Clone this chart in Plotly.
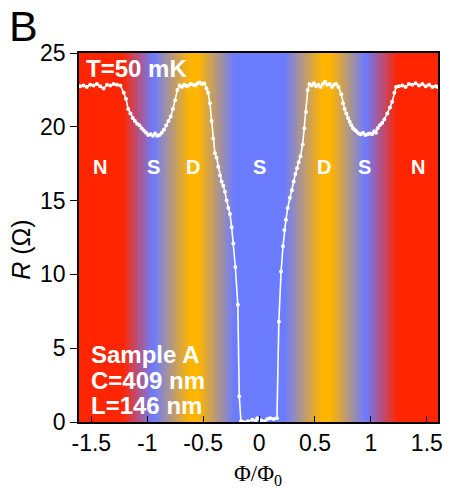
import plotly.graph_objects as go

# Measured R(Phi) curve
phi = [-1.60, -1.57, -1.54, -1.51, -1.48, -1.45, -1.42, -1.39, -1.36, -1.33, -1.30, -1.27, -1.24,
       -1.21, -1.19, -1.17, -1.15, -1.13, -1.11, -1.09, -1.07, -1.05, -1.03, -1.01, -0.99, -0.97,
       -0.95, -0.93, -0.91, -0.89, -0.87, -0.85, -0.83, -0.81, -0.79, -0.77, -0.75, -0.73, -0.71,
       -0.69, -0.67, -0.65, -0.63, -0.61, -0.59, -0.57, -0.55, -0.53, -0.51, -0.49, -0.47, -0.455,
       -0.44, -0.425, -0.41, -0.395, -0.38, -0.365, -0.35, -0.335, -0.32, -0.305, -0.29, -0.275,
       -0.26, -0.245, -0.23, -0.212, -0.19, -0.177, -0.162, -0.14, -0.10, -0.06, -0.03, -0.015,
       0.02, 0.05, 0.075, 0.10, 0.13, 0.16, 0.177, 0.197, 0.214, 0.226, 0.24, 0.256, 0.275, 0.294,
       0.31, 0.325, 0.34, 0.355, 0.37, 0.39, 0.405, 0.42, 0.435, 0.45, 0.47, 0.49, 0.51, 0.53,
       0.55, 0.57, 0.59, 0.61, 0.63, 0.65, 0.67, 0.69, 0.71, 0.735, 0.75, 0.765, 0.78, 0.795,
       0.81, 0.825, 0.84, 0.855, 0.87, 0.89, 0.91, 0.93, 0.95, 0.97, 0.99, 1.01, 1.03, 1.045,
       1.06, 1.08, 1.10, 1.12, 1.147, 1.17, 1.19, 1.21, 1.225, 1.25, 1.28, 1.31, 1.34, 1.37,
       1.40, 1.43, 1.46, 1.49, 1.52, 1.55, 1.58, 1.60]
resistance = [22.75, 22.8, 22.7, 22.85, 22.8, 22.9, 22.75, 22.6, 22.85, 22.8, 22.9, 22.85, 22.8,
              22.3, 21.9, 21.2, 20.9, 20.6, 20.4, 20.2, 20.1, 19.9, 19.75, 19.6, 19.45, 19.5,
              19.4, 19.55, 19.4, 19.45, 19.6, 19.8, 20.1, 20.4, 20.7, 21.2, 21.8, 22.5, 22.8,
              22.7, 22.85, 22.75, 22.8, 22.9, 22.85, 22.8, 22.95, 23.0, 22.9, 22.95, 22.6, 22.3,
              21.6, 20.4, 19.2, 18.2, 17.9, 17.3, 16.7, 16.3, 16.0, 15.6, 15.0, 14.5,
              14.1, 13.2, 12.1, 10.5, 7.95, 1.75, 0.05, 0.0, 0.05, 0.15, 0.1, 0.25,
              0.1, 0.05, 0.2, 0.25, 0.2, 0.25, 6.8, 10.2, 11.9, 13.0, 13.7, 14.5, 15.2, 15.7,
              16.3, 16.8, 17.2, 17.6, 18.0, 18.8, 19.9, 21.0, 22.5, 22.9, 22.8, 22.95, 22.75, 22.85,
              22.7, 22.9, 23.05, 22.85, 22.9, 22.7, 22.85, 22.9, 22.7, 22.2, 21.6, 21.2, 20.9, 20.6,
              20.35, 20.1, 19.9, 19.8, 19.7, 19.55, 19.5, 19.6, 19.45, 19.5, 19.55, 19.5, 19.7, 19.6,
              19.9, 20.1, 20.25, 20.5, 20.9, 21.3, 21.7, 22.3, 22.7, 22.75, 22.8, 22.7, 22.9, 22.85,
              22.95, 22.8, 22.9, 22.75, 22.85, 22.7, 22.75, 22.7]

# Background phase bands: 0 = N (red), 0.5 = S (blue), 1 = D (orange)
band_phi = [-1.75, -1.23, -0.95, -0.63, -0.55, -0.22, 0.22, 0.55, 0.63, 0.95, 1.23, 1.75]
band_level = [0.0, 0.0, 0.5, 1.0, 1.0, 0.5, 0.5, 1.0, 1.0, 0.5, 0.0, 0.0]
band_rows = [-2, 27]

region_labels = ["N", "S", "D", "S", "D", "S", "N"]
region_phi = [-1.42, -0.94, -0.59, 0.0, 0.585, 0.94, 1.42]
region_r = 17.3

x_ticks = [-1.5, -1.0, -0.5, 0.0, 0.5, 1.0, 1.5]
x_ticktext = ["-1.5", "-1", "-0.5", "0", "0.5", "1", "1.5"]
y_ticks = [0, 5, 10, 15, 20, 25]

RED = "#FF2500"
BLUE = "#6B7CFF"
ORANGE = "#FFB400"
SANS = "Liberation Sans, Arial"

fig = go.Figure()
fig.add_trace(go.Heatmap(
    x=band_phi, y=band_rows, z=[band_level, band_level],
    zmin=0, zmax=1, zsmooth="best", showscale=False, hoverinfo="skip",
    colorscale=[[0, RED], [0.5, BLUE], [1, ORANGE]],
))
fig.add_trace(go.Scatter(
    x=phi, y=resistance, mode="lines+markers",
    line=dict(color="white", width=1.6),
    marker=dict(color="white", size=4),
    showlegend=False,
))

ann = []
for lab, px in zip(region_labels, region_phi):
    ann.append(dict(x=px, y=region_r, xref="x", yref="y", text=lab, showarrow=False,
                    font=dict(family=SANS, size=20, color="white", weight="bold")))
ann.append(dict(x=-1.565, y=23.95, xref="x", yref="y", text="T=50 mK", showarrow=False,
                xanchor="left", yanchor="middle",
                font=dict(family=SANS, size=24, color="white", weight="bold")))
for txt, yy in zip(["Sample A", "C=409 nm", "L=146 nm"], [4.55, 2.8, 1.1]):
    ann.append(dict(x=-1.52, y=yy, xref="x", yref="y", text=txt, showarrow=False,
                    xanchor="left", yanchor="middle",
                    font=dict(family=SANS, size=24, color="white", weight="bold")))

# pixel-positioned annotations (converted to paper coordinates below)
pix_ann = [
    dict(x=6, y=26, text="B", xanchor="left", yanchor="middle",
         font=dict(family=SANS, size=43, color="black")),
    dict(x=260, y=459, text="Φ/Φ<sub>0</sub>", xanchor="center", yanchor="top",
         font=dict(family="Liberation Serif, Times New Roman", size=23, color="black")),
    dict(x=20, y=250, text="<i>R</i> (Ω)", textangle=-90, xanchor="center", yanchor="middle",
         font=dict(family=SANS, size=25, color="black")),
]

W, H = 451, 488
L, R_, T, B = 79, 8, 53, 66
pw, ph = W - L - R_, H - T - B
for a in pix_ann:
    a["x"] = (a["x"] - L) / pw
    a["y"] = 1 - (a["y"] - T) / ph
    a["xref"] = "paper"
    a["yref"] = "paper"
    a["showarrow"] = False
    ann.append(a)

fig.update_layout(
    width=W, height=H,
    margin=dict(l=L, r=R_, t=T, b=B, pad=0),
    paper_bgcolor="white", plot_bgcolor="white",
    annotations=ann,
    font=dict(family=SANS, size=23, color="black"),
    xaxis=dict(range=[-1.61, 1.6], tickvals=x_ticks, ticktext=x_ticktext,
               ticks="inside", ticklen=6, tickcolor="black", showgrid=False, zeroline=False,
               showline=True, linecolor="black", linewidth=1.5, mirror=True,
               tickfont=dict(size=23)),
    yaxis=dict(range=[0, 25], tickvals=y_ticks, ticks="outside", ticklen=7, tickcolor="black",
               showgrid=False, zeroline=False, showline=True, linecolor="black", linewidth=1.5,
               mirror=True, tickfont=dict(size=23)),
)
fig.write_html("out.html")
